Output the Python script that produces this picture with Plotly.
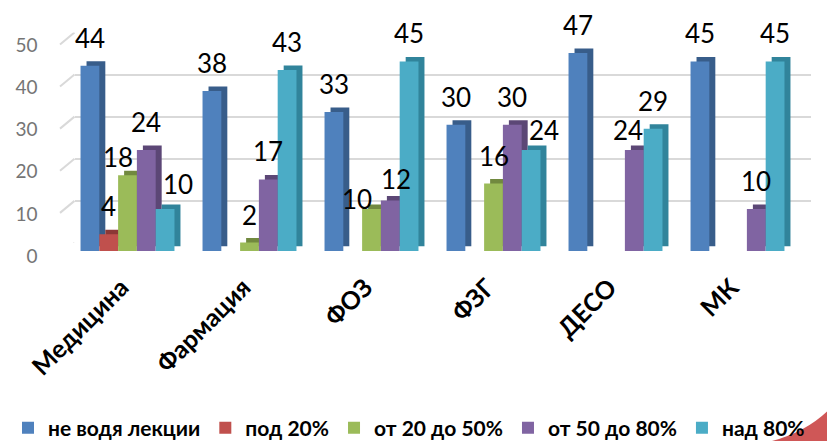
import plotly.graph_objects as go

# ---- data ----
categories = ["Медицина", "Фармация", "ФОЗ", "ФЗГ", "ДЕСО", "МК"]
series_names = ["не водя лекции", "под 20%", "от 20 до 50%", "от 50 до 80%", "над 80%"]
ne_vodya = [44, 38, 33, 30, 47, 45]
pod_20 = [4, 0, 0, 0, 0, 0]
ot_20_50 = [18, 2, 10, 16, 0, 0]
ot_50_80 = [24, 17, 12, 30, 24, 10]
nad_80 = [10, 43, 45, 24, 29, 45]
y_ticks = [0, 10, 20, 30, 40, 50]

series_values = [ne_vodya, pod_20, ot_20_50, ot_50_80, nad_80]

# ---- style ----
front_colors = ["#4F81BD", "#C0504D", "#9BBB59", "#8064A2", "#4BACC6"]
side_colors = ["#385D8A", "#8C3836", "#71893F", "#5C4776", "#31849B"]
PAGE_OFF = 8            # default body margin of the html page
WIN_W, WIN_H = 835, 441
W, H = WIN_W - PAGE_OFF, WIN_H - PAGE_OFF
BARGAP = 0.23
# label nudges (px) for a few data labels, keyed by (category index, series index)
label_nudge = {(0, 2): (-10, -10), (0, 4): (13, -3), (2, 2): (-15, -18),
               (2, 3): (6, -7), (3, 4): (13, -8), (4, 3): (-6, -8)}

def fx(px):
    """window x pixel -> paper fraction"""
    return (px - PAGE_OFF) / W

def fy(py):
    """window y pixel (from top) -> paper fraction"""
    return (H - (py - PAGE_OFF)) / H

# pixel geometry of the front plane (window coords)
FX0, FX1 = 66.5, 798.5
FY0, FY50 = 251, 40.4
SDX, SDY = 6, 4.5   # bar depth offset
GDX, GDY = 8, 8     # back-wall offset

fig = go.Figure()

# invisible trace to keep grid subplot alive
fig.add_trace(go.Scatter(x=[0], y=[0], mode="markers", marker=dict(opacity=0),
                         showlegend=False, hoverinfo="skip", xaxis="x", yaxis="y"))

xs = list(range(len(categories)))
# side/top (depth) bars
for j, (name, vals) in enumerate(zip(series_names, series_values)):
    fig.add_trace(go.Bar(x=xs, y=vals, name=name, marker=dict(color=side_colors[j], line=dict(width=0)),
                         showlegend=False, hoverinfo="skip", xaxis="x2", yaxis="y2"))
# front bars
for j, (name, vals) in enumerate(zip(series_names, series_values)):
    fig.add_trace(go.Bar(x=xs, y=vals, name=name, marker=dict(color=front_colors[j], line=dict(width=0)),
                         xaxis="x3", yaxis="y3"))

# data labels
w = (1 - BARGAP) / len(series_names)
annotations = []
for j, vals in enumerate(series_values):
    for i, v in enumerate(vals):
        if not v:
            continue
        dx, dy = label_nudge.get((i, j), (0, 0))
        annotations.append(dict(
            x=i + (j - 2) * w, y=v, xref="x3", yref="y3", text=str(v), showarrow=False,
            xanchor="center", yanchor="middle", xshift=dx, yshift=28 + dy,
            font=dict(family="Lato", size=26, color="#000000")))

# left wall diagonals
shapes = []
for t in y_ticks:
    shapes.append(dict(type="line", xref="paper", yref="y", ysizemode="pixel", yanchor=t,
                       x0=fx(60), x1=fx(FX0 + GDX), y0=-12, y1=0,
                       line=dict(color="#d9d9d9", width=2), layer="below"))
# decorative red swoosh in bottom-right corner
shapes.append(dict(type="path", xref="paper", yref="paper",
                   path=f"M {fx(772)},0 Q {fx(812)},{fy(430)} 1,{fy(403)} L 1,0 Z",
                   fillcolor="rgba(195,45,45,0.8)", line=dict(width=0), layer="below"))

common_x = dict(range=[-0.5, len(categories) - 0.5], showgrid=False, zeroline=False,
                showline=False, fixedrange=True, automargin=False)
common_y = dict(range=[0, 50], zeroline=False, showline=False, fixedrange=True, automargin=False)

fig.update_layout(
    width=W, height=H,
    margin=dict(l=0, r=0, t=0, b=0, autoexpand=False),
    paper_bgcolor="white", plot_bgcolor="rgba(0,0,0,0)",
    barmode="group", bargap=BARGAP, bargroupgap=0,
    font=dict(family="Lato"),
    xaxis=dict(domain=[fx(FX0 + GDX), fx(FX1 + GDX + 4)], anchor="y", showticklabels=False, **common_x),
    yaxis=dict(domain=[fy(FY0 - GDY), fy(FY50 - GDY)], anchor="x", showgrid=True,
               gridcolor="#d9d9d9", gridwidth=2, tickvals=y_ticks, showticklabels=False, **common_y),
    xaxis2=dict(domain=[fx(FX0 + SDX), fx(FX1 + SDX)], anchor="y2", showticklabels=False, **common_x),
    yaxis2=dict(domain=[fy(FY0 - SDY), fy(FY50 - SDY)], anchor="x2", showgrid=False,
                showticklabels=False, **common_y),
    xaxis3=dict(domain=[fx(FX0), fx(FX1)], anchor="y3", tickvals=xs, ticktext=categories,
                tickangle=-45, ticklabelstandoff=16, ticklabelshift=-6,
                tickfont=dict(family="Lato", size=25, color="#000000", weight="bold"),
                **common_x),
    yaxis3=dict(domain=[fy(FY0), fy(FY50)], anchor="x3", showgrid=False, tickvals=y_ticks,
                ticklabelstandoff=28, ticklabelshift=5,
                tickfont=dict(family="Lato", size=19, color="#757575"), **common_y),
    legend=dict(orientation="h", x=fx(8), y=fy(428), xanchor="left", yanchor="middle",
                bgcolor="rgba(0,0,0,0)", itemwidth=30, traceorder="normal",
                font=dict(family="Lato", size=21, color="#000000", weight="bold")),
    annotations=annotations,
    shapes=shapes,
)

fig.write_html("out.html")
